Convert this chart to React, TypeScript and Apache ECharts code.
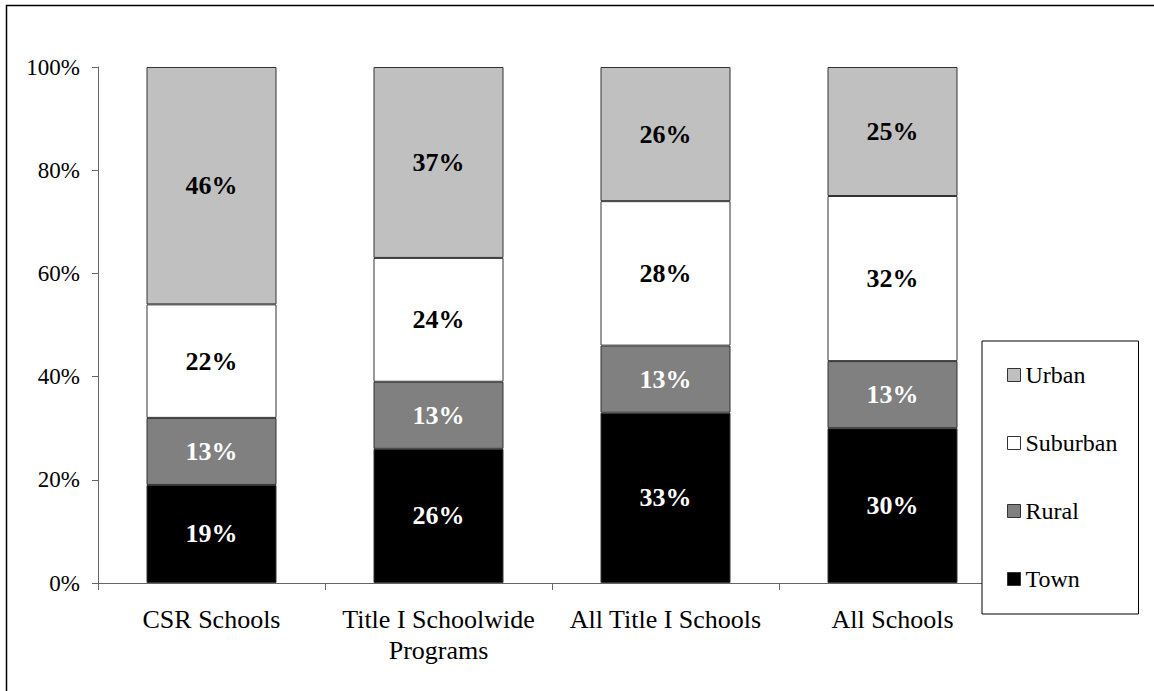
import React, { useEffect, useRef } from "react";
import * as echarts from "echarts";

// School groups along the x axis
const categories = ["CSR Schools", "Title I Schoolwide\nPrograms", "All Title I Schools", "All Schools"];

// Share of schools by locale (percent), stacked bottom to top
const town = [19, 26, 33, 30];
const rural = [13, 13, 13, 13];
const suburban = [22, 24, 28, 32];
const urban = [46, 37, 26, 25];

const yTicks = [0, 20, 40, 60, 80, 100];

const FONT = "Liberation Serif, Times New Roman, serif";

export default function App() {
  const ref = useRef<HTMLDivElement>(null);

  useEffect(() => {
    if (!ref.current) return;
    const chart = echarts.init(ref.current, null, { renderer: "svg" });

    const seriesDef = [
      { name: "Town", data: town, color: "#000000", label: "#ffffff" },
      { name: "Rural", data: rural, color: "#808080", label: "#ffffff" },
      { name: "Suburban", data: suburban, color: "#ffffff", label: "#000000" },
      { name: "Urban", data: urban, color: "#c0c0c0", label: "#000000" },
    ];

    chart.setOption({
      animation: false,
      backgroundColor: "#ffffff",
      textStyle: { fontFamily: FONT },
      graphic: [
        {
          type: "rect",
          shape: { x: 6.5, y: 5.5, width: 1200, height: 720 },
          style: { fill: "none", stroke: "#000000", lineWidth: 1.5 },
          silent: true,
        },
      ],
      grid: { left: 98, top: 67, width: 908, height: 516, containLabel: false },
      xAxis: {
        type: "category",
        data: categories,
        boundaryGap: true,
        axisLine: { lineStyle: { color: "#666666", width: 1 } },
        axisTick: { show: true, length: 7, lineStyle: { color: "#666666" } },
        axisLabel: {
          color: "#000000",
          fontFamily: FONT,
          fontSize: 26,
          lineHeight: 31,
          margin: 21,
          interval: 0,
        },
      },
      yAxis: {
        type: "value",
        min: 0,
        max: 100,
        interval: 20,
        axisLine: { show: true, lineStyle: { color: "#666666", width: 1 } },
        axisTick: { show: true, length: 6, lineStyle: { color: "#666666" } },
        splitLine: { show: false },
        axisLabel: {
          color: "#000000",
          fontFamily: FONT,
          fontSize: 23,
          margin: 18,
          formatter: (v: number) => (yTicks.includes(v) ? `${v}%` : ""),
        },
      },
      legend: {
        orient: "vertical",
        left: 982,
        top: 341,
        data: ["Urban", "Suburban", "Rural", "Town"],
        backgroundColor: "#ffffff",
        borderColor: "#000000",
        borderWidth: 1,
        padding: [22, 21, 23, 25],
        itemGap: 44,
        itemWidth: 13,
        itemHeight: 13,
        icon: "rect",
        itemStyle: { borderColor: "#333333", borderWidth: 1 },
        textStyle: { color: "#000000", fontFamily: FONT, fontSize: 24 },
        z: 10,
      },
      series: seriesDef.map((s) => ({
        name: s.name,
        type: "bar",
        stack: "total",
        barWidth: 130,
        data: s.data,
        itemStyle: { color: s.color, borderColor: "#333333", borderWidth: 1 },
        label: {
          show: true,
          position: "inside",
          formatter: (p: any) => `${p.value}%`,
          color: s.label,
          fontFamily: FONT,
          fontWeight: "bold",
          fontSize: 26,
        },
      })),
    });

    return () => chart.dispose();
  }, []);

  return (
    <div
      ref={ref}
      style={{ position: "fixed", left: 0, top: 0, width: 1154, height: 691, background: "#fff" }}
    />
  );
}
